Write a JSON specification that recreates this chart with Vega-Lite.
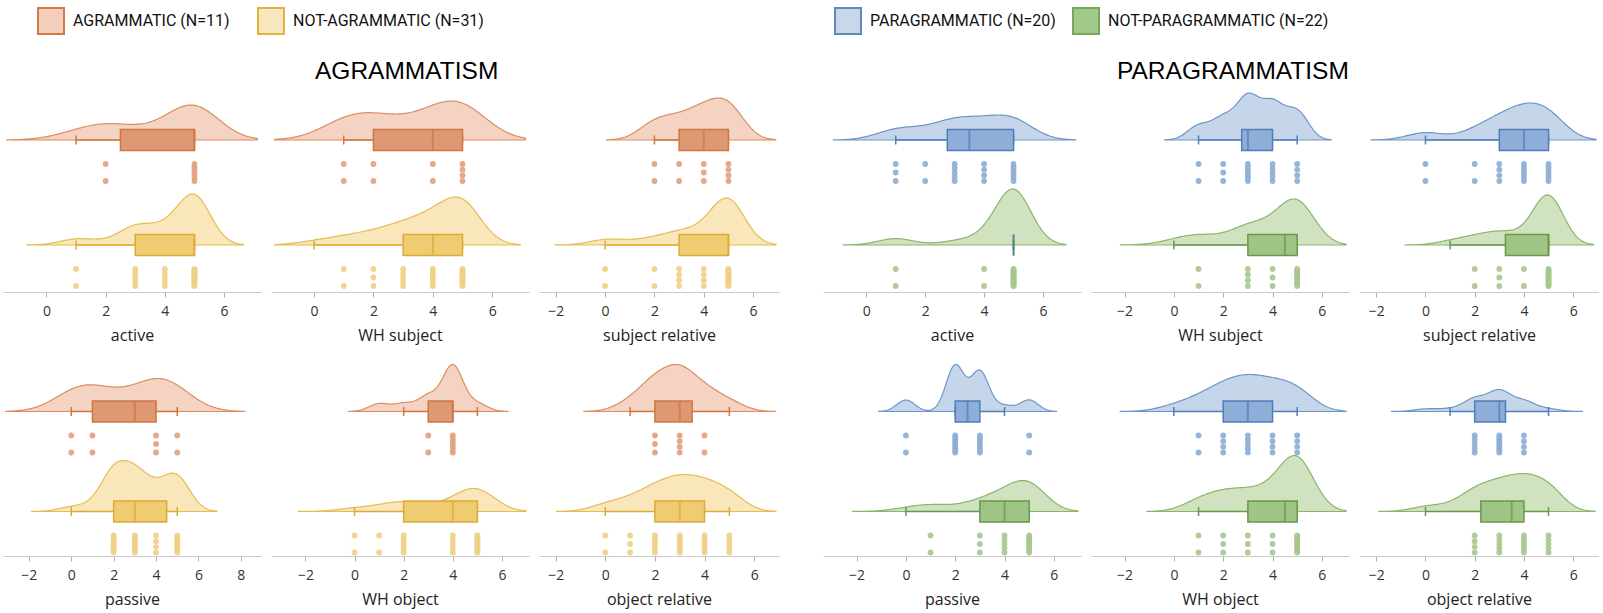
{
"$schema": "https://vega.github.io/schema/vega-lite/v6.json",
"padding": {"left": 3, "top": 2, "right": 0, "bottom": 5},
"config": {
 "view": {"stroke": null},
 "area": {"strokeJoin": "round", "fillOpacity": 1, "strokeWidth": 1.2},
 "axisX": {"domainColor": "#c9c9c9", "domainWidth": 1.2, "tickColor": "#b0b0b0", "tickSize": 5, "labelFont": "Open Sans", "labelFontSize": 14, "labelColor": "#333333", "titleFont": "Open Sans", "titleFontSize": 16, "titleFontWeight": "normal", "titleColor": "#222222", "labelPadding": 7, "titlePadding": 9, "grid": false, "tickCount": 5, "labelFlush": false}
},
"datasets": {
 "A_active": [{"score":1},{"score":2},{"score":2},{"score":3},{"score":4},{"score":5},{"score":5},{"score":5},{"score":5},{"score":5},{"score":5}],
 "NA_active": [{"score":1},{"score":1},{"score":2},{"score":3},{"score":3},{"score":3},{"score":3},{"score":3},{"score":3},{"score":4},{"score":4},{"score":4},{"score":4},{"score":4},{"score":5},{"score":5},{"score":5},{"score":5},{"score":5},{"score":5},{"score":5},{"score":5},{"score":5},{"score":5},{"score":5},{"score":5},{"score":5},{"score":5},{"score":5},{"score":5},{"score":5}],
 "A_whsubj": [{"score":1},{"score":1},{"score":2},{"score":2},{"score":3},{"score":4},{"score":4},{"score":5},{"score":5},{"score":5},{"score":5}],
 "NA_whsubj": [{"score":0},{"score":1},{"score":1},{"score":2},{"score":2},{"score":2},{"score":3},{"score":3},{"score":3},{"score":3},{"score":3},{"score":4},{"score":4},{"score":4},{"score":4},{"score":4},{"score":4},{"score":4},{"score":5},{"score":5},{"score":5},{"score":5},{"score":5},{"score":5},{"score":5},{"score":5},{"score":5},{"score":5},{"score":5},{"score":5},{"score":5}],
 "A_subjrel": [{"score":2},{"score":2},{"score":3},{"score":3},{"score":4},{"score":4},{"score":4},{"score":5},{"score":5},{"score":5},{"score":5}],
 "NA_subjrel": [{"score":0},{"score":0},{"score":1},{"score":2},{"score":2},{"score":3},{"score":3},{"score":3},{"score":3},{"score":4},{"score":4},{"score":4},{"score":4},{"score":5},{"score":5},{"score":5},{"score":5},{"score":5},{"score":5},{"score":5},{"score":5},{"score":5},{"score":5},{"score":5},{"score":5},{"score":5},{"score":5},{"score":5},{"score":5},{"score":5},{"score":5}],
 "A_passive": [{"score":0},{"score":0},{"score":1},{"score":1},{"score":2},{"score":3},{"score":4},{"score":4},{"score":4},{"score":5},{"score":5}],
 "NA_passive": [{"score":0},{"score":1},{"score":2},{"score":2},{"score":2},{"score":2},{"score":2},{"score":2},{"score":2},{"score":2},{"score":2},{"score":3},{"score":3},{"score":3},{"score":3},{"score":3},{"score":3},{"score":3},{"score":3},{"score":4},{"score":4},{"score":4},{"score":4},{"score":5},{"score":5},{"score":5},{"score":5},{"score":5},{"score":5},{"score":5},{"score":5}],
 "A_whobj": [{"score":1},{"score":2},{"score":3},{"score":3},{"score":4},{"score":4},{"score":4},{"score":4},{"score":4},{"score":4},{"score":5}],
 "NA_whobj": [{"score":0},{"score":0},{"score":1},{"score":1},{"score":2},{"score":2},{"score":2},{"score":2},{"score":2},{"score":2},{"score":3},{"score":4},{"score":4},{"score":4},{"score":4},{"score":4},{"score":5},{"score":5},{"score":5},{"score":5},{"score":5},{"score":5},{"score":5},{"score":5},{"score":5},{"score":5},{"score":5},{"score":5},{"score":5},{"score":5},{"score":5}],
 "A_objrel": [{"score":1},{"score":2},{"score":2},{"score":2},{"score":3},{"score":3},{"score":3},{"score":3},{"score":4},{"score":4},{"score":5}],
 "NA_objrel": [{"score":0},{"score":0},{"score":1},{"score":1},{"score":1},{"score":2},{"score":2},{"score":2},{"score":2},{"score":2},{"score":2},{"score":3},{"score":3},{"score":3},{"score":3},{"score":3},{"score":3},{"score":3},{"score":3},{"score":4},{"score":4},{"score":4},{"score":4},{"score":4},{"score":4},{"score":4},{"score":5},{"score":5},{"score":5},{"score":5},{"score":5}],
 "P_active": [{"score":1},{"score":1},{"score":1},{"score":2},{"score":2},{"score":3},{"score":3},{"score":3},{"score":3},{"score":3},{"score":4},{"score":4},{"score":4},{"score":4},{"score":5},{"score":5},{"score":5},{"score":5},{"score":5},{"score":5}],
 "NP_active": [{"score":1},{"score":1},{"score":3},{"score":4},{"score":4},{"score":5},{"score":5},{"score":5},{"score":5},{"score":5},{"score":5},{"score":5},{"score":5},{"score":5},{"score":5},{"score":5},{"score":5},{"score":5},{"score":5},{"score":5},{"score":5},{"score":5}],
 "P_whsubj": [{"score":1},{"score":1},{"score":2},{"score":2},{"score":2},{"score":3},{"score":3},{"score":3},{"score":3},{"score":3},{"score":3},{"score":4},{"score":4},{"score":4},{"score":4},{"score":4},{"score":5},{"score":5},{"score":5},{"score":5}],
 "NP_whsubj": [{"score":0},{"score":1},{"score":1},{"score":2},{"score":3},{"score":3},{"score":3},{"score":3},{"score":4},{"score":4},{"score":4},{"score":5},{"score":5},{"score":5},{"score":5},{"score":5},{"score":5},{"score":5},{"score":5},{"score":5},{"score":5},{"score":5}],
 "P_subjrel": [{"score":0},{"score":0},{"score":2},{"score":2},{"score":3},{"score":3},{"score":3},{"score":3},{"score":4},{"score":4},{"score":4},{"score":4},{"score":4},{"score":4},{"score":5},{"score":5},{"score":5},{"score":5},{"score":5},{"score":5}],
 "NP_subjrel": [{"score":1},{"score":2},{"score":2},{"score":3},{"score":3},{"score":3},{"score":4},{"score":4},{"score":5},{"score":5},{"score":5},{"score":5},{"score":5},{"score":5},{"score":5},{"score":5},{"score":5},{"score":5},{"score":5},{"score":5},{"score":5},{"score":5}],
 "P_passive": [{"score":0},{"score":0},{"score":2},{"score":2},{"score":2},{"score":2},{"score":2},{"score":2},{"score":2},{"score":2},{"score":3},{"score":3},{"score":3},{"score":3},{"score":3},{"score":3},{"score":3},{"score":4},{"score":5},{"score":5}],
 "NP_passive": [{"score":0},{"score":1},{"score":1},{"score":2},{"score":3},{"score":3},{"score":3},{"score":4},{"score":4},{"score":4},{"score":4},{"score":4},{"score":5},{"score":5},{"score":5},{"score":5},{"score":5},{"score":5},{"score":5},{"score":5},{"score":5},{"score":5}],
 "P_whobj": [{"score":0},{"score":1},{"score":1},{"score":2},{"score":2},{"score":2},{"score":2},{"score":3},{"score":3},{"score":3},{"score":3},{"score":3},{"score":4},{"score":4},{"score":4},{"score":4},{"score":5},{"score":5},{"score":5},{"score":5}],
 "NP_whobj": [{"score":1},{"score":1},{"score":2},{"score":2},{"score":2},{"score":3},{"score":3},{"score":3},{"score":4},{"score":4},{"score":4},{"score":5},{"score":5},{"score":5},{"score":5},{"score":5},{"score":5},{"score":5},{"score":5},{"score":5},{"score":5},{"score":5}],
 "P_objrel": [{"score":0},{"score":1},{"score":2},{"score":2},{"score":2},{"score":2},{"score":2},{"score":3},{"score":3},{"score":3},{"score":3},{"score":3},{"score":3},{"score":3},{"score":3},{"score":4},{"score":4},{"score":4},{"score":4},{"score":5}],
 "NP_objrel": [{"score":0},{"score":1},{"score":2},{"score":2},{"score":2},{"score":2},{"score":3},{"score":3},{"score":3},{"score":3},{"score":3},{"score":4},{"score":4},{"score":4},{"score":4},{"score":4},{"score":4},{"score":5},{"score":5},{"score":5},{"score":5},{"score":5}]
},
"spacing": 20,
"resolve": {"scale": {"fill": "independent", "stroke": "independent"}},
"vconcat": [
{"spacing": 44, "resolve": {"scale": {"fill": "independent", "stroke": "independent"}}, "hconcat": [
 {"width": 776, "height": 1, "data": {"values": [{"group": "Agrammatic (N=11)"}, {"group": "Not-agrammatic (N=31)"}]},
  "mark": {"type": "square", "size": 0},
  "encoding": {
   "fill": {"field": "group", "type": "nominal", "scale": {"domain": ["Agrammatic (N=11)", "Not-agrammatic (N=31)"], "range": ["#f3cfbb", "#f8e6bd"]}, "legend": {"orient": "none", "legendX": 34, "legendY": 1, "direction": "horizontal", "title": null, "symbolType": "square", "symbolSize": 676, "symbolStrokeWidth": 2, "symbolOpacity": 1, "labelFont": "Roboto", "labelFontSize": 16, "labelColor": "#111111", "labelExpr": "upper(datum.label)", "columnPadding": 24, "labelOffset": 8, "labelLimit": 400, "padding": 0}},
   "stroke": {"field": "group", "type": "nominal", "scale": {"domain": ["Agrammatic (N=11)", "Not-agrammatic (N=31)"], "range": ["#d37a45", "#e3b23c"]}, "legend": {"orient": "none", "legendX": 34, "legendY": 1, "direction": "horizontal", "title": null, "symbolType": "square", "symbolSize": 676, "symbolStrokeWidth": 2, "symbolOpacity": 1, "labelFont": "Roboto", "labelFontSize": 16, "labelColor": "#111111", "labelExpr": "upper(datum.label)", "columnPadding": 24, "labelOffset": 8, "labelLimit": 400, "padding": 0}}}},
 {"width": 776, "height": 1, "data": {"values": [{"group": "Paragrammatic (N=20)"}, {"group": "Not-paragrammatic (N=22)"}]},
  "mark": {"type": "square", "size": 0},
  "encoding": {
   "fill": {"field": "group", "type": "nominal", "scale": {"domain": ["Paragrammatic (N=20)", "Not-paragrammatic (N=22)"], "range": ["#c8d7ea", "#a3c98a"]}, "legend": {"orient": "none", "legendX": 11, "legendY": 1, "direction": "horizontal", "title": null, "symbolType": "square", "symbolSize": 676, "symbolStrokeWidth": 2, "symbolOpacity": 1, "labelFont": "Roboto", "labelFontSize": 16, "labelColor": "#111111", "labelExpr": "upper(datum.label)", "columnPadding": 13, "labelOffset": 8, "labelLimit": 400, "padding": 0}},
   "stroke": {"field": "group", "type": "nominal", "scale": {"domain": ["Paragrammatic (N=20)", "Not-paragrammatic (N=22)"], "range": ["#5d8ac1", "#76a857"]}, "legend": {"orient": "none", "legendX": 11, "legendY": 1, "direction": "horizontal", "title": null, "symbolType": "square", "symbolSize": 676, "symbolStrokeWidth": 2, "symbolOpacity": 1, "labelFont": "Roboto", "labelFontSize": 16, "labelColor": "#111111", "labelExpr": "upper(datum.label)", "columnPadding": 13, "labelOffset": 8, "labelLimit": 400, "padding": 0}}}}
]},
{"spacing": 44, "hconcat": [
{
 "title": {"text": "AGRAMMATISM", "frame": "group", "anchor": "start", "offset": -21, "baseline": "alphabetic", "font": "Liberation Sans", "fontSize": 24.5, "fontWeight": "normal", "color": "#000000", "dx": 312},
 "spacing": 13,
 "vconcat": [
  {"spacing": 10, "hconcat": [
   {"spacing": 0, "bounds": "flush", "resolve": {"scale": {"x": "shared"}}, "vconcat": [
    {"width": 258, "height": 116, "data": {"name": "A_active"}, "resolve": {"scale": {"y": "independent"}}, "layer": [
     {"transform": [{"density": "score", "bandwidth": 0.856, "extent": [-1.35, 7.13], "as": ["value", "density"]}],
      "mark": {"type": "area", "fill": "#f4d3c2", "stroke": "#dc8d62"},
      "encoding": {"x": {"field": "value", "type": "quantitative", "scale": {"domain": [-1.47, 7.25], "nice": false, "zero": false}, "axis": null},
       "y": {"field": "density", "type": "quantitative", "scale": {"range": [58, 23], "nice": false}, "axis": null}}},
     {"mark": {"type": "boxplot", "extent": 1.5, "size": 21, "outliers": false, "box": {"fill": "#de9873", "stroke": "#cf7641", "strokeWidth": 1.5}, "median": {"color": "#cf7641", "thickness": 2}, "rule": {"stroke": "#cf7641", "strokeWidth": 1.5}, "ticks": {"color": "#cf7641", "size": 9, "thickness": 1.5}},
      "encoding": {"x": {"field": "score", "type": "quantitative", "scale": {"domain": [-1.47, 7.25], "nice": false, "zero": false}, "axis": null}}},
     {"transform": [{"window": [{"op": "row_number", "as": "id"}]}, {"window": [{"op": "percent_rank", "as": "jit"}], "groupby": ["score"], "sort": [{"field": "id"}]}],
      "mark": {"type": "circle", "size": 34, "color": "#e2a07c", "opacity": 0.9},
      "encoding": {"x": {"field": "score", "type": "quantitative", "scale": {"domain": [-1.47, 7.25], "nice": false, "zero": false}, "axis": null},
       "y": {"field": "jit", "type": "quantitative", "scale": {"domain": [0, 1], "range": [82, 99]}, "axis": null}}}
    ]},
    {"width": 258, "height": 94, "data": {"name": "NA_active"}, "resolve": {"scale": {"y": "independent"}}, "layer": [
     {"transform": [{"density": "score", "bandwidth": 0.553, "extent": [-0.66, 6.66], "as": ["value", "density"]}],
      "mark": {"type": "area", "fill": "#f9e7bb", "stroke": "#e6bb52"},
      "encoding": {"x": {"field": "value", "type": "quantitative", "scale": {"domain": [-1.47, 7.25], "nice": false, "zero": false}, "title": "active"},
       "y": {"field": "density", "type": "quantitative", "scale": {"range": [47, -4], "nice": false}, "axis": null}}},
     {"mark": {"type": "boxplot", "extent": 1.5, "size": 21, "outliers": false, "box": {"fill": "#efcb72", "stroke": "#dcaa38", "strokeWidth": 1.5}, "median": {"color": "#dcaa38", "thickness": 2}, "rule": {"stroke": "#dcaa38", "strokeWidth": 1.5}, "ticks": {"color": "#dcaa38", "size": 9, "thickness": 1.5}},
      "encoding": {"x": {"field": "score", "type": "quantitative", "scale": {"domain": [-1.47, 7.25], "nice": false, "zero": false}, "title": "active"}}},
     {"transform": [{"window": [{"op": "row_number", "as": "id"}]}, {"window": [{"op": "percent_rank", "as": "jit"}], "groupby": ["score"], "sort": [{"field": "id"}]}],
      "mark": {"type": "circle", "size": 34, "color": "#efcf86", "opacity": 0.9},
      "encoding": {"x": {"field": "score", "type": "quantitative", "scale": {"domain": [-1.47, 7.25], "nice": false, "zero": false}, "title": "active"},
       "y": {"field": "jit", "type": "quantitative", "scale": {"domain": [0, 1], "range": [71, 88]}, "axis": null}}}
    ]}
   ]},
   {"spacing": 0, "bounds": "flush", "resolve": {"scale": {"x": "shared"}}, "vconcat": [
    {"width": 258, "height": 116, "data": {"name": "A_whsubj"}, "resolve": {"scale": {"y": "independent"}}, "layer": [
     {"transform": [{"density": "score", "bandwidth": 0.908, "extent": [-1.33, 7.12], "as": ["value", "density"]}],
      "mark": {"type": "area", "fill": "#f4d3c2", "stroke": "#dc8d62"},
      "encoding": {"x": {"field": "value", "type": "quantitative", "scale": {"domain": [-1.45, 7.24], "nice": false, "zero": false}, "axis": null},
       "y": {"field": "density", "type": "quantitative", "scale": {"range": [58, 19], "nice": false}, "axis": null}}},
     {"mark": {"type": "boxplot", "extent": 1.5, "size": 21, "outliers": false, "box": {"fill": "#de9873", "stroke": "#cf7641", "strokeWidth": 1.5}, "median": {"color": "#cf7641", "thickness": 2}, "rule": {"stroke": "#cf7641", "strokeWidth": 1.5}, "ticks": {"color": "#cf7641", "size": 9, "thickness": 1.5}},
      "encoding": {"x": {"field": "score", "type": "quantitative", "scale": {"domain": [-1.45, 7.24], "nice": false, "zero": false}, "axis": null}}},
     {"transform": [{"window": [{"op": "row_number", "as": "id"}]}, {"window": [{"op": "percent_rank", "as": "jit"}], "groupby": ["score"], "sort": [{"field": "id"}]}],
      "mark": {"type": "circle", "size": 34, "color": "#e2a07c", "opacity": 0.9},
      "encoding": {"x": {"field": "score", "type": "quantitative", "scale": {"domain": [-1.45, 7.24], "nice": false, "zero": false}, "axis": null},
       "y": {"field": "jit", "type": "quantitative", "scale": {"domain": [0, 1], "range": [82, 99]}, "axis": null}}}
    ]},
    {"width": 258, "height": 94, "data": {"name": "NA_whsubj"}, "resolve": {"scale": {"y": "independent"}}, "layer": [
     {"transform": [{"density": "score", "bandwidth": 0.65, "extent": [-1.33, 6.95], "as": ["value", "density"]}],
      "mark": {"type": "area", "fill": "#f9e7bb", "stroke": "#e6bb52"},
      "encoding": {"x": {"field": "value", "type": "quantitative", "scale": {"domain": [-1.45, 7.24], "nice": false, "zero": false}, "title": "WH subject"},
       "y": {"field": "density", "type": "quantitative", "scale": {"range": [47, -1], "nice": false}, "axis": null}}},
     {"mark": {"type": "boxplot", "extent": 1.5, "size": 21, "outliers": false, "box": {"fill": "#efcb72", "stroke": "#dcaa38", "strokeWidth": 1.5}, "median": {"color": "#dcaa38", "thickness": 2}, "rule": {"stroke": "#dcaa38", "strokeWidth": 1.5}, "ticks": {"color": "#dcaa38", "size": 9, "thickness": 1.5}},
      "encoding": {"x": {"field": "score", "type": "quantitative", "scale": {"domain": [-1.45, 7.24], "nice": false, "zero": false}, "title": "WH subject"}}},
     {"transform": [{"window": [{"op": "row_number", "as": "id"}]}, {"window": [{"op": "percent_rank", "as": "jit"}], "groupby": ["score"], "sort": [{"field": "id"}]}],
      "mark": {"type": "circle", "size": 34, "color": "#efcf86", "opacity": 0.9},
      "encoding": {"x": {"field": "score", "type": "quantitative", "scale": {"domain": [-1.45, 7.24], "nice": false, "zero": false}, "title": "WH subject"},
       "y": {"field": "jit", "type": "quantitative", "scale": {"domain": [0, 1], "range": [71, 88]}, "axis": null}}}
    ]}
   ]},
   {"spacing": 0, "bounds": "flush", "resolve": {"scale": {"x": "shared"}}, "vconcat": [
    {"width": 240, "height": 116, "data": {"name": "A_subjrel"}, "resolve": {"scale": {"y": "independent"}}, "layer": [
     {"transform": [{"density": "score", "bandwidth": 0.65, "extent": [0.05, 6.92], "as": ["value", "density"]}],
      "mark": {"type": "area", "fill": "#f4d3c2", "stroke": "#dc8d62"},
      "encoding": {"x": {"field": "value", "type": "quantitative", "scale": {"domain": [-2.68, 7.05], "nice": false, "zero": false}, "axis": null},
       "y": {"field": "density", "type": "quantitative", "scale": {"range": [58, 16], "nice": false}, "axis": null}}},
     {"mark": {"type": "boxplot", "extent": 1.5, "size": 21, "outliers": false, "box": {"fill": "#de9873", "stroke": "#cf7641", "strokeWidth": 1.5}, "median": {"color": "#cf7641", "thickness": 2}, "rule": {"stroke": "#cf7641", "strokeWidth": 1.5}, "ticks": {"color": "#cf7641", "size": 9, "thickness": 1.5}},
      "encoding": {"x": {"field": "score", "type": "quantitative", "scale": {"domain": [-2.68, 7.05], "nice": false, "zero": false}, "axis": null}}},
     {"transform": [{"window": [{"op": "row_number", "as": "id"}]}, {"window": [{"op": "percent_rank", "as": "jit"}], "groupby": ["score"], "sort": [{"field": "id"}]}],
      "mark": {"type": "circle", "size": 34, "color": "#e2a07c", "opacity": 0.9},
      "encoding": {"x": {"field": "score", "type": "quantitative", "scale": {"domain": [-2.68, 7.05], "nice": false, "zero": false}, "axis": null},
       "y": {"field": "jit", "type": "quantitative", "scale": {"domain": [0, 1], "range": [82, 99]}, "axis": null}}}
    ]},
    {"width": 240, "height": 94, "data": {"name": "NA_subjrel"}, "resolve": {"scale": {"y": "independent"}}, "layer": [
     {"transform": [{"density": "score", "bandwidth": 0.676, "extent": [-2.03, 6.93], "as": ["value", "density"]}],
      "mark": {"type": "area", "fill": "#f9e7bb", "stroke": "#e6bb52"},
      "encoding": {"x": {"field": "value", "type": "quantitative", "scale": {"domain": [-2.68, 7.05], "nice": false, "zero": false}, "title": "subject relative"},
       "y": {"field": "density", "type": "quantitative", "scale": {"range": [47, 0], "nice": false}, "axis": null}}},
     {"mark": {"type": "boxplot", "extent": 1.5, "size": 21, "outliers": false, "box": {"fill": "#efcb72", "stroke": "#dcaa38", "strokeWidth": 1.5}, "median": {"color": "#dcaa38", "thickness": 2}, "rule": {"stroke": "#dcaa38", "strokeWidth": 1.5}, "ticks": {"color": "#dcaa38", "size": 9, "thickness": 1.5}},
      "encoding": {"x": {"field": "score", "type": "quantitative", "scale": {"domain": [-2.68, 7.05], "nice": false, "zero": false}, "title": "subject relative"}}},
     {"transform": [{"window": [{"op": "row_number", "as": "id"}]}, {"window": [{"op": "percent_rank", "as": "jit"}], "groupby": ["score"], "sort": [{"field": "id"}]}],
      "mark": {"type": "circle", "size": 34, "color": "#efcf86", "opacity": 0.9},
      "encoding": {"x": {"field": "score", "type": "quantitative", "scale": {"domain": [-2.68, 7.05], "nice": false, "zero": false}, "title": "subject relative"},
       "y": {"field": "jit", "type": "quantitative", "scale": {"domain": [0, 1], "range": [71, 88]}, "axis": null}}}
    ]}
   ]}
  ]},
  {"spacing": 10, "hconcat": [
   {"spacing": 0, "bounds": "flush", "resolve": {"scale": {"x": "shared"}}, "vconcat": [
    {"width": 258, "height": 111, "data": {"name": "A_passive"}, "resolve": {"scale": {"y": "independent"}}, "layer": [
     {"transform": [{"density": "score", "bandwidth": 1.065, "extent": [-3.1, 8.19], "as": ["value", "density"]}],
      "mark": {"type": "area", "fill": "#f4d3c2", "stroke": "#dc8d62"},
      "encoding": {"x": {"field": "value", "type": "quantitative", "scale": {"domain": [-3.22, 8.95], "nice": false, "zero": false}, "axis": null},
       "y": {"field": "density", "type": "quantitative", "scale": {"range": [55.5, 22.5], "nice": false}, "axis": null}}},
     {"mark": {"type": "boxplot", "extent": 1.5, "size": 21, "outliers": false, "box": {"fill": "#de9873", "stroke": "#cf7641", "strokeWidth": 1.5}, "median": {"color": "#cf7641", "thickness": 2}, "rule": {"stroke": "#cf7641", "strokeWidth": 1.5}, "ticks": {"color": "#cf7641", "size": 9, "thickness": 1.5}},
      "encoding": {"x": {"field": "score", "type": "quantitative", "scale": {"domain": [-3.22, 8.95], "nice": false, "zero": false}, "axis": null}}},
     {"transform": [{"window": [{"op": "row_number", "as": "id"}]}, {"window": [{"op": "percent_rank", "as": "jit"}], "groupby": ["score"], "sort": [{"field": "id"}]}],
      "mark": {"type": "circle", "size": 34, "color": "#e2a07c", "opacity": 0.9},
      "encoding": {"x": {"field": "score", "type": "quantitative", "scale": {"domain": [-3.22, 8.95], "nice": false, "zero": false}, "axis": null},
       "y": {"field": "jit", "type": "quantitative", "scale": {"domain": [0, 1], "range": [79.5, 96.5]}, "axis": null}}}
    ]},
    {"width": 258, "height": 89, "data": {"name": "NA_passive"}, "resolve": {"scale": {"y": "independent"}}, "layer": [
     {"transform": [{"density": "score", "bandwidth": 0.623, "extent": [-1.87, 6.87], "as": ["value", "density"]}],
      "mark": {"type": "area", "fill": "#f9e7bb", "stroke": "#e6bb52"},
      "encoding": {"x": {"field": "value", "type": "quantitative", "scale": {"domain": [-3.22, 8.95], "nice": false, "zero": false}, "title": "passive"},
       "y": {"field": "density", "type": "quantitative", "scale": {"range": [44.5, -6.5], "nice": false}, "axis": null}}},
     {"mark": {"type": "boxplot", "extent": 1.5, "size": 21, "outliers": false, "box": {"fill": "#efcb72", "stroke": "#dcaa38", "strokeWidth": 1.5}, "median": {"color": "#dcaa38", "thickness": 2}, "rule": {"stroke": "#dcaa38", "strokeWidth": 1.5}, "ticks": {"color": "#dcaa38", "size": 9, "thickness": 1.5}},
      "encoding": {"x": {"field": "score", "type": "quantitative", "scale": {"domain": [-3.22, 8.95], "nice": false, "zero": false}, "title": "passive"}}},
     {"transform": [{"window": [{"op": "row_number", "as": "id"}]}, {"window": [{"op": "percent_rank", "as": "jit"}], "groupby": ["score"], "sort": [{"field": "id"}]}],
      "mark": {"type": "circle", "size": 34, "color": "#efcf86", "opacity": 0.9},
      "encoding": {"x": {"field": "score", "type": "quantitative", "scale": {"domain": [-3.22, 8.95], "nice": false, "zero": false}, "title": "passive"},
       "y": {"field": "jit", "type": "quantitative", "scale": {"domain": [0, 1], "range": [68.5, 85.5]}, "axis": null}}}
    ]}
   ]},
   {"spacing": 0, "bounds": "flush", "resolve": {"scale": {"x": "shared"}}, "vconcat": [
    {"width": 258, "height": 111, "data": {"name": "A_whobj"}, "resolve": {"scale": {"y": "independent"}}, "layer": [
     {"transform": [{"density": "score", "bandwidth": 0.416, "extent": [-0.25, 6.25], "as": ["value", "density"]}],
      "mark": {"type": "area", "fill": "#f4d3c2", "stroke": "#dc8d62"},
      "encoding": {"x": {"field": "value", "type": "quantitative", "scale": {"domain": [-3.4, 7.1], "nice": false, "zero": false}, "axis": null},
       "y": {"field": "density", "type": "quantitative", "scale": {"range": [55.5, 8.5], "nice": false}, "axis": null}}},
     {"mark": {"type": "boxplot", "extent": 1.5, "size": 21, "outliers": false, "box": {"fill": "#de9873", "stroke": "#cf7641", "strokeWidth": 1.5}, "median": {"color": "#cf7641", "thickness": 2}, "rule": {"stroke": "#cf7641", "strokeWidth": 1.5}, "ticks": {"color": "#cf7641", "size": 9, "thickness": 1.5}},
      "encoding": {"x": {"field": "score", "type": "quantitative", "scale": {"domain": [-3.4, 7.1], "nice": false, "zero": false}, "axis": null}}},
     {"transform": [{"window": [{"op": "row_number", "as": "id"}]}, {"window": [{"op": "percent_rank", "as": "jit"}], "groupby": ["score"], "sort": [{"field": "id"}]}],
      "mark": {"type": "circle", "size": 34, "color": "#e2a07c", "opacity": 0.9},
      "encoding": {"x": {"field": "score", "type": "quantitative", "scale": {"domain": [-3.4, 7.1], "nice": false, "zero": false}, "axis": null},
       "y": {"field": "jit", "type": "quantitative", "scale": {"domain": [0, 1], "range": [79.5, 96.5]}, "axis": null}}}
    ]},
    {"width": 258, "height": 89, "data": {"name": "NA_whobj"}, "resolve": {"scale": {"y": "independent"}}, "layer": [
     {"transform": [{"density": "score", "bandwidth": 0.764, "extent": [-2.29, 6.98], "as": ["value", "density"]}],
      "mark": {"type": "area", "fill": "#f9e7bb", "stroke": "#e6bb52"},
      "encoding": {"x": {"field": "value", "type": "quantitative", "scale": {"domain": [-3.4, 7.1], "nice": false, "zero": false}, "title": "WH object"},
       "y": {"field": "density", "type": "quantitative", "scale": {"range": [44.5, 21.5], "nice": false}, "axis": null}}},
     {"mark": {"type": "boxplot", "extent": 1.5, "size": 21, "outliers": false, "box": {"fill": "#efcb72", "stroke": "#dcaa38", "strokeWidth": 1.5}, "median": {"color": "#dcaa38", "thickness": 2}, "rule": {"stroke": "#dcaa38", "strokeWidth": 1.5}, "ticks": {"color": "#dcaa38", "size": 9, "thickness": 1.5}},
      "encoding": {"x": {"field": "score", "type": "quantitative", "scale": {"domain": [-3.4, 7.1], "nice": false, "zero": false}, "title": "WH object"}}},
     {"transform": [{"window": [{"op": "row_number", "as": "id"}]}, {"window": [{"op": "percent_rank", "as": "jit"}], "groupby": ["score"], "sort": [{"field": "id"}]}],
      "mark": {"type": "circle", "size": 34, "color": "#efcf86", "opacity": 0.9},
      "encoding": {"x": {"field": "score", "type": "quantitative", "scale": {"domain": [-3.4, 7.1], "nice": false, "zero": false}, "title": "WH object"},
       "y": {"field": "jit", "type": "quantitative", "scale": {"domain": [0, 1], "range": [68.5, 85.5]}, "axis": null}}}
    ]}
   ]},
   {"spacing": 0, "bounds": "flush", "resolve": {"scale": {"x": "shared"}}, "vconcat": [
    {"width": 240, "height": 111, "data": {"name": "A_objrel"}, "resolve": {"scale": {"y": "independent"}}, "layer": [
     {"transform": [{"density": "score", "bandwidth": 0.623, "extent": [-0.87, 6.87], "as": ["value", "density"]}],
      "mark": {"type": "area", "fill": "#f4d3c2", "stroke": "#dc8d62"},
      "encoding": {"x": {"field": "value", "type": "quantitative", "scale": {"domain": [-2.67, 7.0], "nice": false, "zero": false}, "axis": null},
       "y": {"field": "density", "type": "quantitative", "scale": {"range": [55.5, 8.5], "nice": false}, "axis": null}}},
     {"mark": {"type": "boxplot", "extent": 1.5, "size": 21, "outliers": false, "box": {"fill": "#de9873", "stroke": "#cf7641", "strokeWidth": 1.5}, "median": {"color": "#cf7641", "thickness": 2}, "rule": {"stroke": "#cf7641", "strokeWidth": 1.5}, "ticks": {"color": "#cf7641", "size": 9, "thickness": 1.5}},
      "encoding": {"x": {"field": "score", "type": "quantitative", "scale": {"domain": [-2.67, 7.0], "nice": false, "zero": false}, "axis": null}}},
     {"transform": [{"window": [{"op": "row_number", "as": "id"}]}, {"window": [{"op": "percent_rank", "as": "jit"}], "groupby": ["score"], "sort": [{"field": "id"}]}],
      "mark": {"type": "circle", "size": 34, "color": "#e2a07c", "opacity": 0.9},
      "encoding": {"x": {"field": "score", "type": "quantitative", "scale": {"domain": [-2.67, 7.0], "nice": false, "zero": false}, "axis": null},
       "y": {"field": "jit", "type": "quantitative", "scale": {"domain": [0, 1], "range": [79.5, 96.5]}, "axis": null}}}
    ]},
    {"width": 240, "height": 89, "data": {"name": "NA_objrel"}, "resolve": {"scale": {"y": "independent"}}, "layer": [
     {"transform": [{"density": "score", "bandwidth": 0.656, "extent": [-1.97, 6.88], "as": ["value", "density"]}],
      "mark": {"type": "area", "fill": "#f9e7bb", "stroke": "#e6bb52"},
      "encoding": {"x": {"field": "value", "type": "quantitative", "scale": {"domain": [-2.67, 7.0], "nice": false, "zero": false}, "title": "object relative"},
       "y": {"field": "density", "type": "quantitative", "scale": {"range": [44.5, 7.5], "nice": false}, "axis": null}}},
     {"mark": {"type": "boxplot", "extent": 1.5, "size": 21, "outliers": false, "box": {"fill": "#efcb72", "stroke": "#dcaa38", "strokeWidth": 1.5}, "median": {"color": "#dcaa38", "thickness": 2}, "rule": {"stroke": "#dcaa38", "strokeWidth": 1.5}, "ticks": {"color": "#dcaa38", "size": 9, "thickness": 1.5}},
      "encoding": {"x": {"field": "score", "type": "quantitative", "scale": {"domain": [-2.67, 7.0], "nice": false, "zero": false}, "title": "object relative"}}},
     {"transform": [{"window": [{"op": "row_number", "as": "id"}]}, {"window": [{"op": "percent_rank", "as": "jit"}], "groupby": ["score"], "sort": [{"field": "id"}]}],
      "mark": {"type": "circle", "size": 34, "color": "#efcf86", "opacity": 0.9},
      "encoding": {"x": {"field": "score", "type": "quantitative", "scale": {"domain": [-2.67, 7.0], "nice": false, "zero": false}, "title": "object relative"},
       "y": {"field": "jit", "type": "quantitative", "scale": {"domain": [0, 1], "range": [68.5, 85.5]}, "axis": null}}}
    ]}
   ]}
  ]}
 ]
},
{
 "title": {"text": "PARAGRAMMATISM", "frame": "group", "anchor": "start", "offset": -21, "baseline": "alphabetic", "font": "Liberation Sans", "fontSize": 24.5, "fontWeight": "normal", "color": "#000000", "dx": 294},
 "spacing": 13,
 "vconcat": [
  {"spacing": 10, "hconcat": [
   {"spacing": 0, "bounds": "flush", "resolve": {"scale": {"x": "shared"}}, "vconcat": [
    {"width": 258, "height": 116, "data": {"name": "P_active"}, "resolve": {"scale": {"y": "independent"}}, "layer": [
     {"transform": [{"density": "score", "bandwidth": 0.706, "extent": [-1.12, 7.12], "as": ["value", "density"]}],
      "mark": {"type": "area", "fill": "#c6d6ea", "stroke": "#6f95c6"},
      "encoding": {"x": {"field": "value", "type": "quantitative", "scale": {"domain": [-1.47, 7.29], "nice": false, "zero": false}, "axis": null},
       "y": {"field": "density", "type": "quantitative", "scale": {"range": [58, 33], "nice": false}, "axis": null}}},
     {"mark": {"type": "boxplot", "extent": 1.5, "size": 21, "outliers": false, "box": {"fill": "#8eaed7", "stroke": "#4f7dba", "strokeWidth": 1.5}, "median": {"color": "#4f7dba", "thickness": 2}, "rule": {"stroke": "#4f7dba", "strokeWidth": 1.5}, "ticks": {"color": "#4f7dba", "size": 9, "thickness": 1.5}},
      "encoding": {"x": {"field": "score", "type": "quantitative", "scale": {"domain": [-1.47, 7.29], "nice": false, "zero": false}, "axis": null}}},
     {"transform": [{"window": [{"op": "row_number", "as": "id"}]}, {"window": [{"op": "percent_rank", "as": "jit"}], "groupby": ["score"], "sort": [{"field": "id"}]}],
      "mark": {"type": "circle", "size": 34, "color": "#8cadd5", "opacity": 0.9},
      "encoding": {"x": {"field": "score", "type": "quantitative", "scale": {"domain": [-1.47, 7.29], "nice": false, "zero": false}, "axis": null},
       "y": {"field": "jit", "type": "quantitative", "scale": {"domain": [0, 1], "range": [82, 99]}, "axis": null}}}
    ]},
    {"width": 258, "height": 94, "data": {"name": "NP_active"}, "resolve": {"scale": {"y": "independent"}}, "layer": [
     {"transform": [{"density": "score", "bandwidth": 0.594, "extent": [-0.78, 6.78], "as": ["value", "density"]}],
      "mark": {"type": "area", "fill": "#d1e2c0", "stroke": "#8ab56c"},
      "encoding": {"x": {"field": "value", "type": "quantitative", "scale": {"domain": [-1.47, 7.29], "nice": false, "zero": false}, "title": "active"},
       "y": {"field": "density", "type": "quantitative", "scale": {"range": [47, -9], "nice": false}, "axis": null}}},
     {"mark": {"type": "boxplot", "extent": 1.5, "size": 21, "outliers": false, "box": {"fill": "#9fc485", "stroke": "#67994a", "strokeWidth": 1.5}, "median": {"color": "#67994a", "thickness": 2}, "rule": {"stroke": "#67994a", "strokeWidth": 1.5}, "ticks": {"color": "#67994a", "size": 9, "thickness": 1.5}},
      "encoding": {"x": {"field": "score", "type": "quantitative", "scale": {"domain": [-1.47, 7.29], "nice": false, "zero": false}, "title": "active"}}},
     {"transform": [{"window": [{"op": "row_number", "as": "id"}]}, {"window": [{"op": "percent_rank", "as": "jit"}], "groupby": ["score"], "sort": [{"field": "id"}]}],
      "mark": {"type": "circle", "size": 34, "color": "#a7c78e", "opacity": 0.9},
      "encoding": {"x": {"field": "score", "type": "quantitative", "scale": {"domain": [-1.47, 7.29], "nice": false, "zero": false}, "title": "active"},
       "y": {"field": "jit", "type": "quantitative", "scale": {"domain": [0, 1], "range": [71, 88]}, "axis": null}}}
    ]}
   ]},
   {"spacing": 0, "bounds": "flush", "resolve": {"scale": {"x": "shared"}}, "vconcat": [
    {"width": 258, "height": 116, "data": {"name": "P_whsubj"}, "resolve": {"scale": {"y": "independent"}}, "layer": [
     {"transform": [{"density": "score", "bandwidth": 0.461, "extent": [-0.38, 6.38], "as": ["value", "density"]}],
      "mark": {"type": "area", "fill": "#c6d6ea", "stroke": "#6f95c6"},
      "encoding": {"x": {"field": "value", "type": "quantitative", "scale": {"domain": [-3.36, 7.1], "nice": false, "zero": false}, "axis": null},
       "y": {"field": "density", "type": "quantitative", "scale": {"range": [58, 11], "nice": false}, "axis": null}}},
     {"mark": {"type": "boxplot", "extent": 1.5, "size": 21, "outliers": false, "box": {"fill": "#8eaed7", "stroke": "#4f7dba", "strokeWidth": 1.5}, "median": {"color": "#4f7dba", "thickness": 2}, "rule": {"stroke": "#4f7dba", "strokeWidth": 1.5}, "ticks": {"color": "#4f7dba", "size": 9, "thickness": 1.5}},
      "encoding": {"x": {"field": "score", "type": "quantitative", "scale": {"domain": [-3.36, 7.1], "nice": false, "zero": false}, "axis": null}}},
     {"transform": [{"window": [{"op": "row_number", "as": "id"}]}, {"window": [{"op": "percent_rank", "as": "jit"}], "groupby": ["score"], "sort": [{"field": "id"}]}],
      "mark": {"type": "circle", "size": 34, "color": "#8cadd5", "opacity": 0.9},
      "encoding": {"x": {"field": "score", "type": "quantitative", "scale": {"domain": [-3.36, 7.1], "nice": false, "zero": false}, "axis": null},
       "y": {"field": "jit", "type": "quantitative", "scale": {"domain": [0, 1], "range": [82, 99]}, "axis": null}}}
    ]},
    {"width": 258, "height": 94, "data": {"name": "NP_whsubj"}, "resolve": {"scale": {"y": "independent"}}, "layer": [
     {"transform": [{"density": "score", "bandwidth": 0.724, "extent": [-2.17, 6.98], "as": ["value", "density"]}],
      "mark": {"type": "area", "fill": "#d1e2c0", "stroke": "#8ab56c"},
      "encoding": {"x": {"field": "value", "type": "quantitative", "scale": {"domain": [-3.36, 7.1], "nice": false, "zero": false}, "title": "WH subject"},
       "y": {"field": "density", "type": "quantitative", "scale": {"range": [47, 1], "nice": false}, "axis": null}}},
     {"mark": {"type": "boxplot", "extent": 1.5, "size": 21, "outliers": false, "box": {"fill": "#9fc485", "stroke": "#67994a", "strokeWidth": 1.5}, "median": {"color": "#67994a", "thickness": 2}, "rule": {"stroke": "#67994a", "strokeWidth": 1.5}, "ticks": {"color": "#67994a", "size": 9, "thickness": 1.5}},
      "encoding": {"x": {"field": "score", "type": "quantitative", "scale": {"domain": [-3.36, 7.1], "nice": false, "zero": false}, "title": "WH subject"}}},
     {"transform": [{"window": [{"op": "row_number", "as": "id"}]}, {"window": [{"op": "percent_rank", "as": "jit"}], "groupby": ["score"], "sort": [{"field": "id"}]}],
      "mark": {"type": "circle", "size": 34, "color": "#a7c78e", "opacity": 0.9},
      "encoding": {"x": {"field": "score", "type": "quantitative", "scale": {"domain": [-3.36, 7.1], "nice": false, "zero": false}, "title": "WH subject"},
       "y": {"field": "jit", "type": "quantitative", "scale": {"domain": [0, 1], "range": [71, 88]}, "axis": null}}}
    ]}
   ]},
   {"spacing": 0, "bounds": "flush", "resolve": {"scale": {"x": "shared"}}, "vconcat": [
    {"width": 240, "height": 116, "data": {"name": "P_subjrel"}, "resolve": {"scale": {"y": "independent"}}, "layer": [
     {"transform": [{"density": "score", "bandwidth": 0.737, "extent": [-2.21, 6.93], "as": ["value", "density"]}],
      "mark": {"type": "area", "fill": "#c6d6ea", "stroke": "#6f95c6"},
      "encoding": {"x": {"field": "value", "type": "quantitative", "scale": {"domain": [-2.7, 7.05], "nice": false, "zero": false}, "axis": null},
       "y": {"field": "density", "type": "quantitative", "scale": {"range": [58, 21], "nice": false}, "axis": null}}},
     {"mark": {"type": "boxplot", "extent": 1.5, "size": 21, "outliers": false, "box": {"fill": "#8eaed7", "stroke": "#4f7dba", "strokeWidth": 1.5}, "median": {"color": "#4f7dba", "thickness": 2}, "rule": {"stroke": "#4f7dba", "strokeWidth": 1.5}, "ticks": {"color": "#4f7dba", "size": 9, "thickness": 1.5}},
      "encoding": {"x": {"field": "score", "type": "quantitative", "scale": {"domain": [-2.7, 7.05], "nice": false, "zero": false}, "axis": null}}},
     {"transform": [{"window": [{"op": "row_number", "as": "id"}]}, {"window": [{"op": "percent_rank", "as": "jit"}], "groupby": ["score"], "sort": [{"field": "id"}]}],
      "mark": {"type": "circle", "size": 34, "color": "#8cadd5", "opacity": 0.9},
      "encoding": {"x": {"field": "score", "type": "quantitative", "scale": {"domain": [-2.7, 7.05], "nice": false, "zero": false}, "axis": null},
       "y": {"field": "jit", "type": "quantitative", "scale": {"domain": [0, 1], "range": [82, 99]}, "axis": null}}}
    ]},
    {"width": 240, "height": 94, "data": {"name": "NP_subjrel"}, "resolve": {"scale": {"y": "independent"}}, "layer": [
     {"transform": [{"density": "score", "bandwidth": 0.611, "extent": [-0.83, 6.83], "as": ["value", "density"]}],
      "mark": {"type": "area", "fill": "#d1e2c0", "stroke": "#8ab56c"},
      "encoding": {"x": {"field": "value", "type": "quantitative", "scale": {"domain": [-2.7, 7.05], "nice": false, "zero": false}, "title": "subject relative"},
       "y": {"field": "density", "type": "quantitative", "scale": {"range": [47, -3], "nice": false}, "axis": null}}},
     {"mark": {"type": "boxplot", "extent": 1.5, "size": 21, "outliers": false, "box": {"fill": "#9fc485", "stroke": "#67994a", "strokeWidth": 1.5}, "median": {"color": "#67994a", "thickness": 2}, "rule": {"stroke": "#67994a", "strokeWidth": 1.5}, "ticks": {"color": "#67994a", "size": 9, "thickness": 1.5}},
      "encoding": {"x": {"field": "score", "type": "quantitative", "scale": {"domain": [-2.7, 7.05], "nice": false, "zero": false}, "title": "subject relative"}}},
     {"transform": [{"window": [{"op": "row_number", "as": "id"}]}, {"window": [{"op": "percent_rank", "as": "jit"}], "groupby": ["score"], "sort": [{"field": "id"}]}],
      "mark": {"type": "circle", "size": 34, "color": "#a7c78e", "opacity": 0.9},
      "encoding": {"x": {"field": "score", "type": "quantitative", "scale": {"domain": [-2.7, 7.05], "nice": false, "zero": false}, "title": "subject relative"},
       "y": {"field": "jit", "type": "quantitative", "scale": {"domain": [0, 1], "range": [71, 88]}, "axis": null}}}
    ]}
   ]}
  ]},
  {"spacing": 10, "hconcat": [
   {"spacing": 0, "bounds": "flush", "resolve": {"scale": {"x": "shared"}}, "vconcat": [
    {"width": 258, "height": 111, "data": {"name": "P_passive"}, "resolve": {"scale": {"y": "independent"}}, "layer": [
     {"transform": [{"density": "score", "bandwidth": 0.369, "extent": [-1.11, 6.11], "as": ["value", "density"]}],
      "mark": {"type": "area", "fill": "#c6d6ea", "stroke": "#6f95c6"},
      "encoding": {"x": {"field": "value", "type": "quantitative", "scale": {"domain": [-3.36, 7.1], "nice": false, "zero": false}, "axis": null},
       "y": {"field": "density", "type": "quantitative", "scale": {"range": [55.5, 8.5], "nice": false}, "axis": null}}},
     {"mark": {"type": "boxplot", "extent": 1.5, "size": 21, "outliers": false, "box": {"fill": "#8eaed7", "stroke": "#4f7dba", "strokeWidth": 1.5}, "median": {"color": "#4f7dba", "thickness": 2}, "rule": {"stroke": "#4f7dba", "strokeWidth": 1.5}, "ticks": {"color": "#4f7dba", "size": 9, "thickness": 1.5}},
      "encoding": {"x": {"field": "score", "type": "quantitative", "scale": {"domain": [-3.36, 7.1], "nice": false, "zero": false}, "axis": null}}},
     {"transform": [{"window": [{"op": "row_number", "as": "id"}]}, {"window": [{"op": "percent_rank", "as": "jit"}], "groupby": ["score"], "sort": [{"field": "id"}]}],
      "mark": {"type": "circle", "size": 34, "color": "#8cadd5", "opacity": 0.9},
      "encoding": {"x": {"field": "score", "type": "quantitative", "scale": {"domain": [-3.36, 7.1], "nice": false, "zero": false}, "axis": null},
       "y": {"field": "jit", "type": "quantitative", "scale": {"domain": [0, 1], "range": [79.5, 96.5]}, "axis": null}}}
    ]},
    {"width": 258, "height": 89, "data": {"name": "NP_passive"}, "resolve": {"scale": {"y": "independent"}}, "layer": [
     {"transform": [{"density": "score", "bandwidth": 0.724, "extent": [-2.17, 6.98], "as": ["value", "density"]}],
      "mark": {"type": "area", "fill": "#d1e2c0", "stroke": "#8ab56c"},
      "encoding": {"x": {"field": "value", "type": "quantitative", "scale": {"domain": [-3.36, 7.1], "nice": false, "zero": false}, "title": "passive"},
       "y": {"field": "density", "type": "quantitative", "scale": {"range": [44.5, 13.5], "nice": false}, "axis": null}}},
     {"mark": {"type": "boxplot", "extent": 1.5, "size": 21, "outliers": false, "box": {"fill": "#9fc485", "stroke": "#67994a", "strokeWidth": 1.5}, "median": {"color": "#67994a", "thickness": 2}, "rule": {"stroke": "#67994a", "strokeWidth": 1.5}, "ticks": {"color": "#67994a", "size": 9, "thickness": 1.5}},
      "encoding": {"x": {"field": "score", "type": "quantitative", "scale": {"domain": [-3.36, 7.1], "nice": false, "zero": false}, "title": "passive"}}},
     {"transform": [{"window": [{"op": "row_number", "as": "id"}]}, {"window": [{"op": "percent_rank", "as": "jit"}], "groupby": ["score"], "sort": [{"field": "id"}]}],
      "mark": {"type": "circle", "size": 34, "color": "#a7c78e", "opacity": 0.9},
      "encoding": {"x": {"field": "score", "type": "quantitative", "scale": {"domain": [-3.36, 7.1], "nice": false, "zero": false}, "title": "passive"},
       "y": {"field": "jit", "type": "quantitative", "scale": {"domain": [0, 1], "range": [68.5, 85.5]}, "axis": null}}}
    ]}
   ]},
   {"spacing": 0, "bounds": "flush", "resolve": {"scale": {"x": "shared"}}, "vconcat": [
    {"width": 258, "height": 111, "data": {"name": "P_whobj"}, "resolve": {"scale": {"y": "independent"}}, "layer": [
     {"transform": [{"density": "score", "bandwidth": 0.725, "extent": [-2.18, 6.98], "as": ["value", "density"]}],
      "mark": {"type": "area", "fill": "#c6d6ea", "stroke": "#6f95c6"},
      "encoding": {"x": {"field": "value", "type": "quantitative", "scale": {"domain": [-3.36, 7.1], "nice": false, "zero": false}, "axis": null},
       "y": {"field": "density", "type": "quantitative", "scale": {"range": [55.5, 18.5], "nice": false}, "axis": null}}},
     {"mark": {"type": "boxplot", "extent": 1.5, "size": 21, "outliers": false, "box": {"fill": "#8eaed7", "stroke": "#4f7dba", "strokeWidth": 1.5}, "median": {"color": "#4f7dba", "thickness": 2}, "rule": {"stroke": "#4f7dba", "strokeWidth": 1.5}, "ticks": {"color": "#4f7dba", "size": 9, "thickness": 1.5}},
      "encoding": {"x": {"field": "score", "type": "quantitative", "scale": {"domain": [-3.36, 7.1], "nice": false, "zero": false}, "axis": null}}},
     {"transform": [{"window": [{"op": "row_number", "as": "id"}]}, {"window": [{"op": "percent_rank", "as": "jit"}], "groupby": ["score"], "sort": [{"field": "id"}]}],
      "mark": {"type": "circle", "size": 34, "color": "#8cadd5", "opacity": 0.9},
      "encoding": {"x": {"field": "score", "type": "quantitative", "scale": {"domain": [-3.36, 7.1], "nice": false, "zero": false}, "axis": null},
       "y": {"field": "jit", "type": "quantitative", "scale": {"domain": [0, 1], "range": [79.5, 96.5]}, "axis": null}}}
    ]},
    {"width": 258, "height": 89, "data": {"name": "NP_whobj"}, "resolve": {"scale": {"y": "independent"}}, "layer": [
     {"transform": [{"density": "score", "bandwidth": 0.696, "extent": [-1.09, 6.98], "as": ["value", "density"]}],
      "mark": {"type": "area", "fill": "#d1e2c0", "stroke": "#8ab56c"},
      "encoding": {"x": {"field": "value", "type": "quantitative", "scale": {"domain": [-3.36, 7.1], "nice": false, "zero": false}, "title": "WH object"},
       "y": {"field": "density", "type": "quantitative", "scale": {"range": [44.5, -11.5], "nice": false}, "axis": null}}},
     {"mark": {"type": "boxplot", "extent": 1.5, "size": 21, "outliers": false, "box": {"fill": "#9fc485", "stroke": "#67994a", "strokeWidth": 1.5}, "median": {"color": "#67994a", "thickness": 2}, "rule": {"stroke": "#67994a", "strokeWidth": 1.5}, "ticks": {"color": "#67994a", "size": 9, "thickness": 1.5}},
      "encoding": {"x": {"field": "score", "type": "quantitative", "scale": {"domain": [-3.36, 7.1], "nice": false, "zero": false}, "title": "WH object"}}},
     {"transform": [{"window": [{"op": "row_number", "as": "id"}]}, {"window": [{"op": "percent_rank", "as": "jit"}], "groupby": ["score"], "sort": [{"field": "id"}]}],
      "mark": {"type": "circle", "size": 34, "color": "#a7c78e", "opacity": 0.9},
      "encoding": {"x": {"field": "score", "type": "quantitative", "scale": {"domain": [-3.36, 7.1], "nice": false, "zero": false}, "title": "WH object"},
       "y": {"field": "jit", "type": "quantitative", "scale": {"domain": [0, 1], "range": [68.5, 85.5]}, "axis": null}}}
    ]}
   ]},
   {"spacing": 0, "bounds": "flush", "resolve": {"scale": {"x": "shared"}}, "vconcat": [
    {"width": 240, "height": 111, "data": {"name": "P_objrel"}, "resolve": {"scale": {"y": "independent"}}, "layer": [
     {"transform": [{"density": "score", "bandwidth": 0.461, "extent": [-1.38, 6.38], "as": ["value", "density"]}],
      "mark": {"type": "area", "fill": "#c6d6ea", "stroke": "#6f95c6"},
      "encoding": {"x": {"field": "value", "type": "quantitative", "scale": {"domain": [-2.7, 7.05], "nice": false, "zero": false}, "axis": null},
       "y": {"field": "density", "type": "quantitative", "scale": {"range": [55.5, 33.5], "nice": false}, "axis": null}}},
     {"mark": {"type": "boxplot", "extent": 1.5, "size": 21, "outliers": false, "box": {"fill": "#8eaed7", "stroke": "#4f7dba", "strokeWidth": 1.5}, "median": {"color": "#4f7dba", "thickness": 2}, "rule": {"stroke": "#4f7dba", "strokeWidth": 1.5}, "ticks": {"color": "#4f7dba", "size": 9, "thickness": 1.5}},
      "encoding": {"x": {"field": "score", "type": "quantitative", "scale": {"domain": [-2.7, 7.05], "nice": false, "zero": false}, "axis": null}}},
     {"transform": [{"window": [{"op": "row_number", "as": "id"}]}, {"window": [{"op": "percent_rank", "as": "jit"}], "groupby": ["score"], "sort": [{"field": "id"}]}],
      "mark": {"type": "circle", "size": 34, "color": "#8cadd5", "opacity": 0.9},
      "encoding": {"x": {"field": "score", "type": "quantitative", "scale": {"domain": [-2.7, 7.05], "nice": false, "zero": false}, "axis": null},
       "y": {"field": "jit", "type": "quantitative", "scale": {"domain": [0, 1], "range": [79.5, 96.5]}, "axis": null}}}
    ]},
    {"width": 240, "height": 89, "data": {"name": "NP_objrel"}, "resolve": {"scale": {"y": "independent"}}, "layer": [
     {"transform": [{"density": "score", "bandwidth": 0.633, "extent": [-1.9, 6.9], "as": ["value", "density"]}],
      "mark": {"type": "area", "fill": "#d1e2c0", "stroke": "#8ab56c"},
      "encoding": {"x": {"field": "value", "type": "quantitative", "scale": {"domain": [-2.7, 7.05], "nice": false, "zero": false}, "title": "object relative"},
       "y": {"field": "density", "type": "quantitative", "scale": {"range": [44.5, 6.5], "nice": false}, "axis": null}}},
     {"mark": {"type": "boxplot", "extent": 1.5, "size": 21, "outliers": false, "box": {"fill": "#9fc485", "stroke": "#67994a", "strokeWidth": 1.5}, "median": {"color": "#67994a", "thickness": 2}, "rule": {"stroke": "#67994a", "strokeWidth": 1.5}, "ticks": {"color": "#67994a", "size": 9, "thickness": 1.5}},
      "encoding": {"x": {"field": "score", "type": "quantitative", "scale": {"domain": [-2.7, 7.05], "nice": false, "zero": false}, "title": "object relative"}}},
     {"transform": [{"window": [{"op": "row_number", "as": "id"}]}, {"window": [{"op": "percent_rank", "as": "jit"}], "groupby": ["score"], "sort": [{"field": "id"}]}],
      "mark": {"type": "circle", "size": 34, "color": "#a7c78e", "opacity": 0.9},
      "encoding": {"x": {"field": "score", "type": "quantitative", "scale": {"domain": [-2.7, 7.05], "nice": false, "zero": false}, "title": "object relative"},
       "y": {"field": "jit", "type": "quantitative", "scale": {"domain": [0, 1], "range": [68.5, 85.5]}, "axis": null}}}
    ]}
   ]}
  ]}
 ]
}
]}
]
}
